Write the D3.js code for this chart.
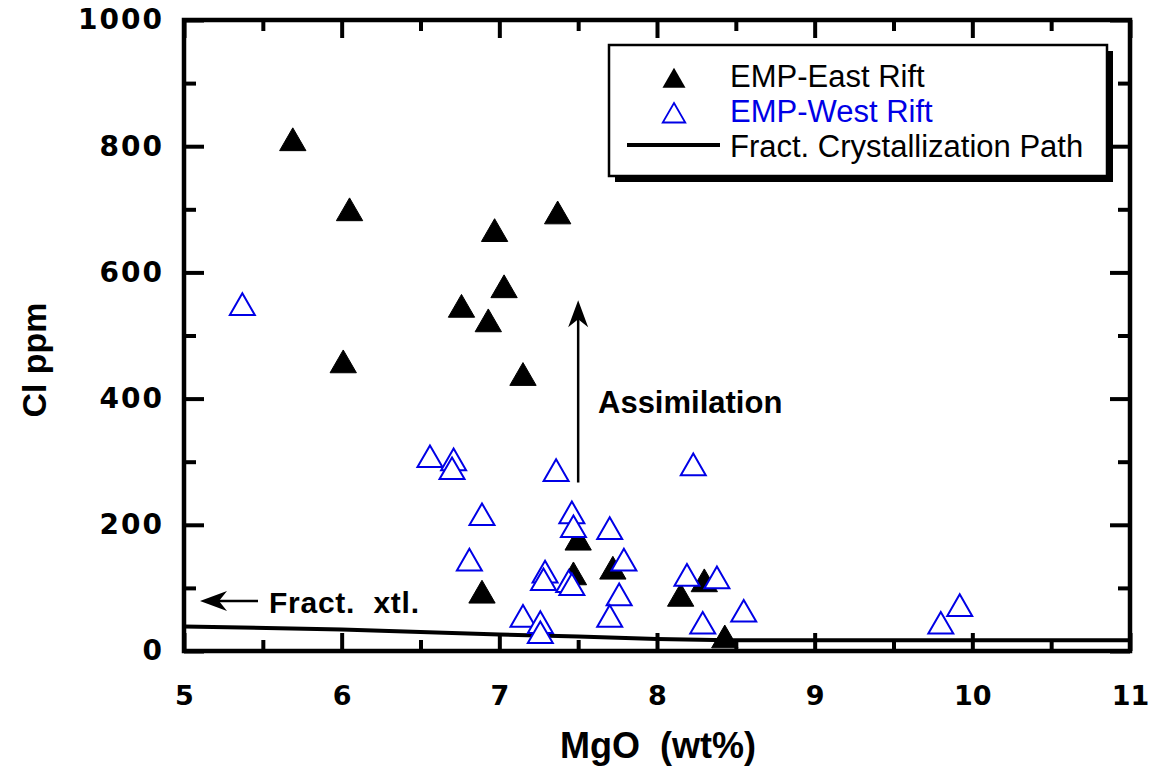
<!DOCTYPE html>
<html>
<head>
<meta charset="utf-8">
<script src="https://cdn.jsdelivr.net/npm/d3@7/dist/d3.min.js"></script>
<style>
  body { margin: 0; background: #fff; }
</style>
</head>
<body>
<div id="app"></div>
<script>
// MgO (wt%), Cl (ppm)
const eastRift = [
  [5.69, 805], [6.05, 694], [7.37, 689], [6.97, 661], [7.03, 572],
  [6.76, 541], [6.93, 518], [6.01, 453], [7.15, 433], [7.50, 172],
  [7.47, 117], [7.72, 126], [6.89, 88], [8.30, 106], [8.15, 83], [8.43, 17]
];
const westRift = [
  [5.37, 544], [6.56, 303], [6.71, 298], [6.70, 284], [7.36, 281],
  [8.23, 290], [6.89, 211], [7.46, 214], [7.47, 192], [7.70, 189],
  [6.81, 139], [7.79, 139], [7.29, 120], [7.28, 108], [7.44, 105],
  [7.46, 100], [7.76, 84], [7.15, 50], [7.26, 40], [7.26, 24],
  [7.70, 50], [8.19, 115], [8.38, 111], [8.29, 39], [8.55, 58],
  [9.80, 39], [9.92, 67]
];
const fractPath = [[5, 39], [6, 34], [7, 26], [7.5, 23], [8, 19], [8.45, 17], [11, 17]];

const xTicks = [5, 6, 7, 8, 9, 10, 11];
const xMinor = [5.5, 6.5, 7.5, 8.5, 9.5, 10.5];
const yTicks = [0, 200, 400, 600, 800, 1000];
const yMinor = [100, 300, 500, 700, 900];

const legendItems = ["EMP-East Rift", "EMP-West Rift", "Fract. Crystallization Path"];

const width = 1150, height = 768;
const margin = {top: 20, right: 20, bottom: 117, left: 184};
const blue = "#0000e6";
const sans = "'Liberation Sans', Arial, sans-serif";
const wide = "'DejaVu Sans', sans-serif";

const x = d3.scaleLinear().domain([5, 11]).range([margin.left, width - margin.right]);
const y = d3.scaleLinear().domain([0, 1000]).range([height - margin.bottom, margin.top]);

const svg = d3.select("#app").append("svg")
    .attr("width", width)
    .attr("height", height)
    .attr("viewBox", [0, 0, width, height])
    .style("font-family", sans);

// ticks, all pointing inward
function ticks(axis, values, size, transform, labels) {
  const g = svg.append("g")
      .attr("transform", transform)
      .call(axis.tickValues(values).tickSize(size).tickSizeOuter(0)
        .tickFormat(labels ? d3.format("d") : ""));
  g.select(".domain").remove();
  g.selectAll(".tick line").attr("stroke", "#000").attr("stroke-width", 4);
  return g;
}

const xb = ticks(d3.axisBottom(x).tickPadding(35), xTicks, -18, `translate(0,${y(0)})`, true);
ticks(d3.axisBottom(x), xMinor, -11, `translate(0,${y(0)})`, false);
ticks(d3.axisTop(x), xTicks, -18, `translate(0,${y(1000)})`, false);
ticks(d3.axisTop(x), xMinor, -11, `translate(0,${y(1000)})`, false);
const yl = ticks(d3.axisLeft(y).tickPadding(20), yTicks, -20, `translate(${x(5)},0)`, true);
ticks(d3.axisLeft(y), yMinor, -12, `translate(${x(5)},0)`, false);
ticks(d3.axisRight(y), yTicks, -20, `translate(${x(11)},0)`, false);
ticks(d3.axisRight(y), yMinor, -12, `translate(${x(11)},0)`, false);

xb.attr("font-family", null).attr("font-size", null);
yl.attr("font-family", null).attr("font-size", null);
xb.selectAll(".tick text")
    .style("font-family", wide)
    .style("font-weight", "bold")
    .style("font-size", "27px")
    .attr("fill", "#000");
yl.selectAll(".tick text")
    .style("font-family", wide)
    .style("font-weight", "bold")
    .style("font-size", "28px")
    .style("letter-spacing", "2px")
    .attr("fill", "#000");

// frame
svg.append("rect")
    .attr("x", x(5)).attr("y", y(1000))
    .attr("width", x(11) - x(5)).attr("height", y(0) - y(1000))
    .attr("fill", "none").attr("stroke", "#000").attr("stroke-width", 4.5);

// fractional crystallization path
svg.append("path")
    .datum(fractPath)
    .attr("fill", "none")
    .attr("stroke", "#000")
    .attr("stroke-width", 4)
    .attr("d", d3.line().x(d => x(d[0])).y(d => y(d[1])));

const tri = d3.symbol(d3.symbolTriangle, 300);

svg.append("g")
  .selectAll("path")
  .data(eastRift)
  .join("path")
    .attr("transform", d => `translate(${x(d[0])},${y(d[1])})`)
    .attr("d", tri)
    .attr("fill", "#000")
    .attr("stroke", "#000")
    .attr("stroke-width", 1);

svg.append("g")
  .selectAll("path")
  .data(westRift)
  .join("path")
    .attr("transform", d => `translate(${x(d[0])},${y(d[1])})`)
    .attr("d", d3.symbol(d3.symbolTriangle, 270))
    .attr("fill", "#fff")
    .attr("stroke", blue)
    .attr("stroke-width", 2);

// annotations
const arrowHead = (tx, ty, angle) => {
  svg.append("path")
    .attr("transform", `translate(${tx},${ty}) rotate(${angle})`)
    .attr("d", "M0,0 L10,27 L0,19 L-10,27 Z")
    .attr("fill", "#000");
};
svg.append("line")
    .attr("x1", x(7.5)).attr("x2", x(7.5))
    .attr("y1", y(267)).attr("y2", y(556) + 10)
    .attr("stroke", "#000").attr("stroke-width", 2.5);
arrowHead(x(7.5), y(556), 0);
svg.append("text")
    .attr("x", 598).attr("y", 413)
    .style("font-size", "31px").style("font-weight", "bold")
    .text("Assimilation");

svg.append("line")
    .attr("x1", 258).attr("x2", 210)
    .attr("y1", 601).attr("y2", 601)
    .attr("stroke", "#000").attr("stroke-width", 2.5);
arrowHead(200, 601, -90);
svg.append("text")
    .attr("x", 269).attr("y", 613)
    .style("font-size", "30px").style("font-weight", "bold")
    .attr("textLength", 150)
    .style("white-space", "pre")
    .text("Fract.  xtl.");

// axis titles
svg.append("text")
    .attr("x", 658).attr("y", 758)
    .attr("text-anchor", "middle")
    .style("font-size", "36px").style("font-weight", "bold")
    .style("white-space", "pre")
    .text("MgO  (wt%)");
svg.append("text")
    .attr("transform", "translate(46,360) rotate(-90)")
    .attr("text-anchor", "middle")
    .style("font-size", "34px").style("font-weight", "bold")
    .text("Cl ppm");

// legend
const lg = svg.append("g").attr("transform", "translate(609,45)");
lg.append("rect")
    .attr("x", 6).attr("y", 6).attr("width", 498).attr("height", 131)
    .attr("fill", "#000");
lg.append("rect")
    .attr("width", 498).attr("height", 131)
    .attr("fill", "#fff").attr("stroke", "#000").attr("stroke-width", 2.5);
legendItems.forEach((name, i) => {
  const by = 42 + i * 35;
  if (i === 0) {
    lg.append("path").attr("transform", `translate(65,${by - 6})`)
      .attr("d", d3.symbol(d3.symbolTriangle, 230)).attr("fill", "#000");
  } else if (i === 1) {
    lg.append("path").attr("transform", `translate(65,${by - 6})`)
      .attr("d", d3.symbol(d3.symbolTriangle, 220))
      .attr("fill", "none").attr("stroke", blue).attr("stroke-width", 1.8);
  } else {
    lg.append("line").attr("x1", 18).attr("x2", 111)
      .attr("y1", by - 12).attr("y2", by - 12)
      .attr("stroke", "#000").attr("stroke-width", 4);
  }
  lg.append("text")
      .attr("x", 121).attr("y", by)
      .style("font-size", "31px")
      .attr("fill", i === 1 ? blue : "#000")
      .text(name);
});
</script>
</body>
</html>
